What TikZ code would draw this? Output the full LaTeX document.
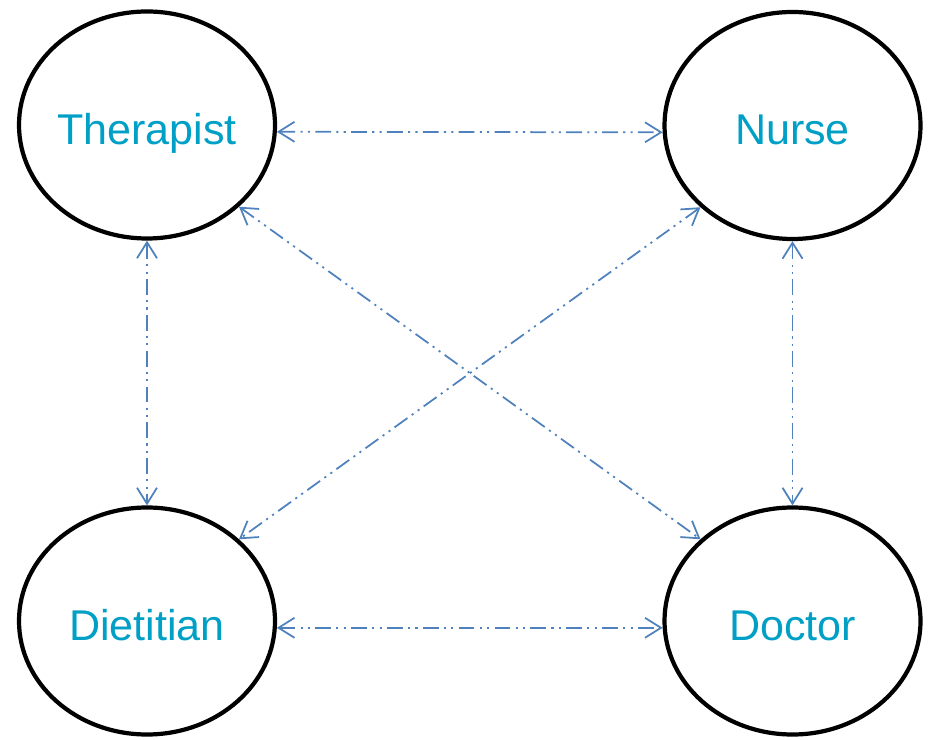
\documentclass[tikz,border=0pt]{standalone}
\usepackage{fontspec}
\setmainfont{Liberation Sans}
\usepackage{xcolor}
\usepackage{tikz}
\usetikzlibrary{arrows.meta}
\usetikzlibrary{shapes.geometric}
\definecolor{rolecyan}{RGB}{0,160,198}
\definecolor{linkblue}{RGB}{79,129,189}
\tikzset{
  role/.style={ellipse, draw=black, line width=2.4pt, minimum width=5.12cm, minimum height=4.54cm, inner sep=0pt, text=rolecyan, text height=0.95cm, text depth=0.18cm},
  link/.style={<->, >={Straight Barb[length=3.2mm,width=4mm]}, draw=linkblue, line width=1pt, dash pattern=on 9pt off 3pt on 1.2pt off 3pt on 1.2pt off 3pt}
}
\begin{document}
\begin{tikzpicture}
\tikzstyle{every node}=[font=\fontsize{24.5}{29}\selectfont]
\useasboundingbox (0,0) rectangle (18.6,14.78);
\node [role] (therapist) at (2.94,12.28) {Therapist};
\node [role] (nurse) at (15.85,12.27) {Nurse};
\node [role] (dietitian) at (2.94,2.36) {Dietitian};
\node [role] (doctor) at (15.85,2.36) {Doctor};
\draw [link] (therapist.-3) -- (nurse.183);
\draw [link] (dietitian.-3) -- (doctor.183);
\draw [link] (therapist.south) -- (dietitian.north);
\draw [link] (nurse.south) -- (doctor.north);
\draw [link] (therapist.south east) -- (doctor.north west);
\draw [link] (nurse.south west) -- (dietitian.north east);
\end{tikzpicture}
\end{document}
